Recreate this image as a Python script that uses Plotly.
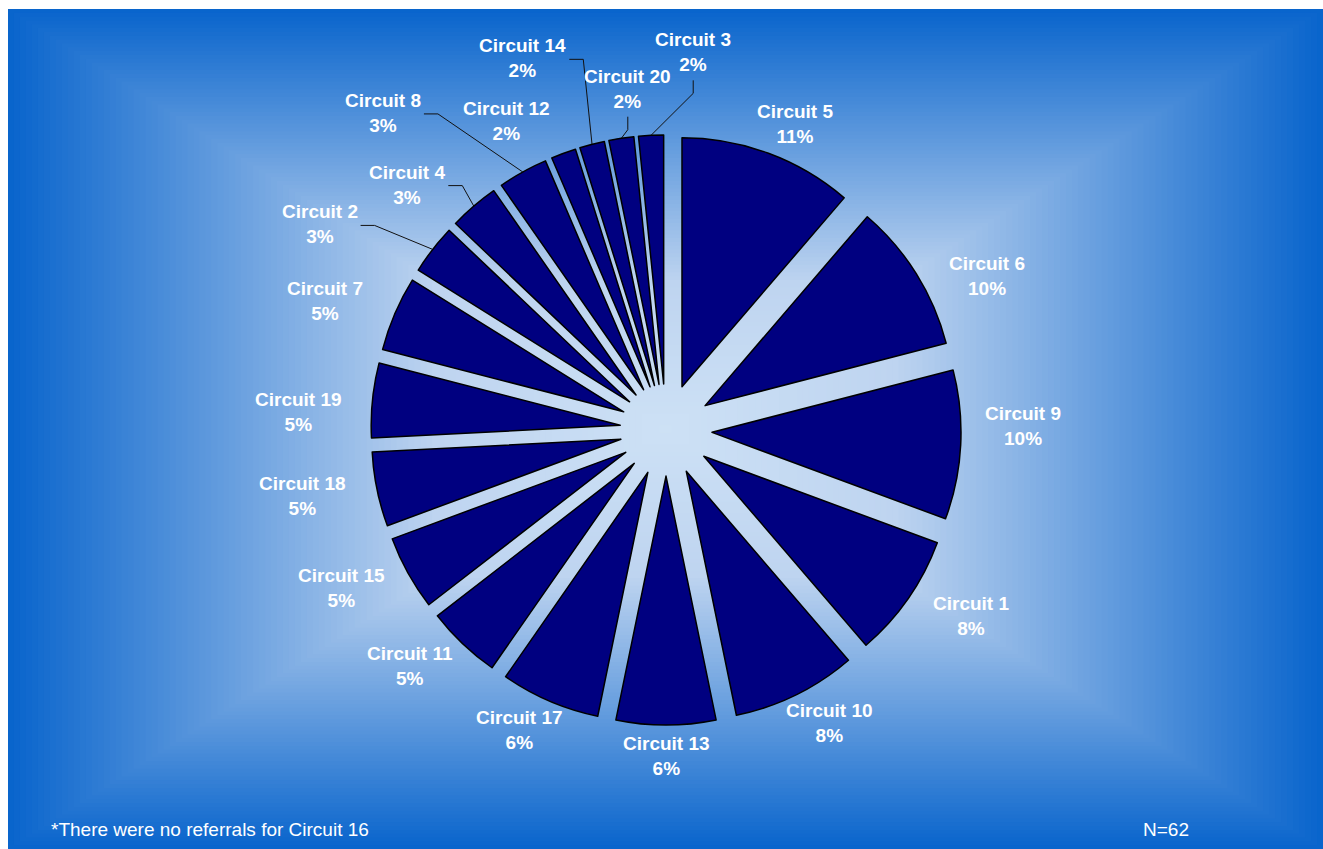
import math
import plotly.graph_objects as go

# Referrals by circuit, listed clockwise from 12 o'clock
circuits = ["Circuit 5", "Circuit 6", "Circuit 9", "Circuit 1", "Circuit 10", "Circuit 13",
            "Circuit 17", "Circuit 11", "Circuit 15", "Circuit 18", "Circuit 19", "Circuit 7",
            "Circuit 2", "Circuit 4", "Circuit 8", "Circuit 12", "Circuit 14", "Circuit 20",
            "Circuit 3"]
referrals = [7, 6, 6, 5, 5, 4, 4, 3, 3, 3, 3, 3, 2, 2, 2, 1, 1, 1, 1]
footnote = "*There were no referrals for Circuit 16"

total = sum(referrals)
n_label = f"N={total}"

# ---- layout constants (pixels) ----
W, H = 1323, 849
PX0, PY0, PX1, PY1 = 8, 9, 1323, 849          # blue panel
CX, CY = 666, 430                              # pie centre
R = 249                                        # pie radius
PULL = 0.185                                   # explosion, fraction of radius
LAB_A, LAB_B = 325, 280                        # label ellipse measured from slice tip
FONT = "Liberation Sans, Arial, sans-serif"
FS = 19

# hand placement for crowded / adjusted labels (dx, dy in px)
label_nudge = {
    "Circuit 6": (6, 18), "Circuit 9": (-14, -21), "Circuit 19": (2, 15),
    "Circuit 2": (-53, -6), "Circuit 4": (-17, 2), "Circuit 8": (-103, -32),
    "Circuit 12": (-31, -3), "Circuit 14": (-50, -56), "Circuit 20": (18, -19),
    "Circuit 3": (46, -52),
}
leader_style = {"Circuit 2": "side", "Circuit 4": "side", "Circuit 8": "side",
                "Circuit 14": "side", "Circuit 20": "below", "Circuit 3": "below"}

# Arial Bold advance widths (em) for label text
_bold_w = {"C": .722, "i": .278, "r": .389, "c": .556, "u": .611, "t": .333, " ": .278, "%": .889}


def text_width(s):
    return sum(_bold_w.get(ch, .556) for ch in s) * FS


fig = go.Figure()

# ---- background: rectangular "from centre" gradient ----
def bg_color(t):
    stops = [(0.0, (205, 225, 245)), (0.35, (190, 212, 240)), (1.0, (8, 100, 204))]
    for (t0, c0), (t1, c1) in zip(stops[:-1], stops[1:]):
        if t <= t1:
            f = (t - t0) / (t1 - t0)
            return "rgb({},{},{})".format(*[round(a + (b - a) * f) for a, b in zip(c0, c1)])
    return "rgb({},{},{})".format(*stops[-1][1])


gx, gy = (PX0 + PX1) / 2, (PY0 + PY1) / 2
hw, hh = (PX1 - PX0) / 2, (PY1 - PY0) / 2
N_STEPS = 110
shapes = []
for k in range(N_STEPS, 0, -1):
    t = k / N_STEPS
    shapes.append(dict(type="rect", xref="x", yref="y", layer="below",
                       x0=gx - hw * t, x1=gx + hw * t, y0=gy - hh * t, y1=gy + hh * t,
                       fillcolor=bg_color((k - 0.5) / N_STEPS), line=dict(width=0)))

# ---- exploded pie ----
S = 2 * R * (1 + PULL)
fig.add_trace(go.Pie(
    labels=circuits, values=referrals, sort=False, direction="clockwise", rotation=0,
    pull=[PULL] * len(referrals),
    marker=dict(colors=["#000080"] * len(referrals), line=dict(color="#000000", width=1.5)),
    textinfo="none", hoverinfo="label+value+percent", showlegend=False,
    domain=dict(x=[(CX - S / 2 - 120) / W, (CX + S / 2 + 120) / W],
                y=[1 - (CY + S / 2) / H, 1 - (CY - S / 2) / H]),
))

# ---- labels and leader lines ----
annotations = []
cum = 0
for name, v in zip(circuits, referrals):
    theta = 2 * math.pi * (cum + v / 2) / total
    cum += v
    ux, uy = math.sin(theta), -math.cos(theta)
    tipx, tipy = CX + PULL * R * ux, CY + PULL * R * uy
    arcx, arcy = tipx + R * ux, tipy + R * uy
    dx, dy = label_nudge.get(name, (0, 0))
    lx, ly = tipx + LAB_A * ux + dx, tipy + LAB_B * uy + dy
    pct = f"{round(100 * v / total)}%"
    annotations.append(dict(x=lx, y=ly, xref="x", yref="y", showarrow=False,
                            xanchor="center", yanchor="middle", align="center",
                            text=f"<b>{name}</b><br><b>{pct}</b>",
                            font=dict(family=FONT, size=FS, color="white")))
    style = leader_style.get(name)
    if style == "side":
        x0 = lx + text_width(name) / 2 + 3
        xs, ys = [x0, x0 + 14, arcx], [ly + 1, ly + 1, arcy]
    elif style == "below":
        xs, ys = [lx, lx, arcx], [ly + 28, ly + 41, arcy]
    else:
        continue
    fig.add_trace(go.Scatter(x=xs, y=ys, mode="lines", line=dict(color="#111111", width=1),
                             hoverinfo="skip", showlegend=False))

annotations.append(dict(x=49, y=829, xref="x", yref="y", showarrow=False,
                        xanchor="left", yanchor="middle", text=footnote,
                        font=dict(family=FONT, size=FS, color="white")))
annotations.append(dict(x=1141, y=829, xref="x", yref="y", showarrow=False,
                        xanchor="left", yanchor="middle", text=n_label,
                        font=dict(family=FONT, size=FS, color="white")))

fig.update_layout(
    width=W, height=H, autosize=False,
    margin=dict(l=0, r=0, t=0, b=0, pad=0),
    paper_bgcolor="white", plot_bgcolor="rgba(0,0,0,0)",
    xaxis=dict(range=[0, W], visible=False, fixedrange=True, domain=[0, 1]),
    yaxis=dict(range=[H, 0], visible=False, fixedrange=True, domain=[0, 1]),
    shapes=shapes, annotations=annotations, showlegend=False,
)

fig.write_html("out.html")
